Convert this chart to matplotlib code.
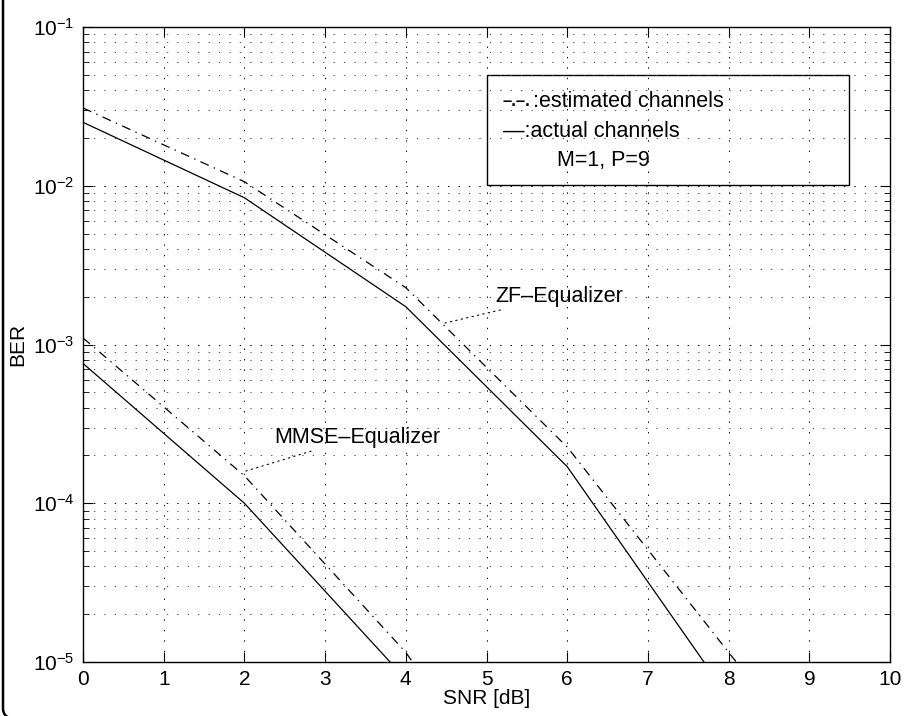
import matplotlib
matplotlib.use('Agg')
import matplotlib.pyplot as plt
from matplotlib.patches import Rectangle, FancyBboxPatch
from matplotlib.ticker import LogLocator, NullFormatter

plt.rcParams['font.family'] = ['Liberation Sans', 'DejaVu Sans']
plt.rcParams['mathtext.fontset'] = 'custom'
plt.rcParams['mathtext.rm'] = 'Liberation Sans'
plt.rcParams['mathtext.it'] = 'Liberation Sans'
plt.rcParams['lines.scale_dashes'] = False

# SNR points [dB]
snr = [0, 2, 4, 6, 8, 10]

# BER curves
zf_actual = [2.51e-2, 8.4e-3, 1.73e-3, 1.70e-4, 6.0e-6, 2e-7]
zf_est = [3.09e-2, 1.06e-2, 2.28e-3, 2.26e-4, 1.15e-5, 6e-7]
mmse_actual = [7.6e-4, 1.0e-4, 7.8e-6, 2e-7, 1e-8, 1e-9]
mmse_est = [1.1e-3, 1.49e-4, 1.15e-5, 4e-7, 2e-8, 1e-9]

fig = plt.figure(figsize=(9.07, 7.16), dpi=100)
ax = fig.add_axes([0.0915, 0.0754, 0.8898, 0.8869])

dd = (6.5, 4.0, 1.0, 4.0)
ax.plot(snr, zf_actual, color='k', lw=0.9)
ax.plot(snr, zf_est, color='k', lw=0.9, dashes=dd)
ax.plot(snr, mmse_actual, color='k', lw=0.9)
ax.plot(snr, mmse_est, color='k', lw=0.9, dashes=dd)

ax.set_yscale('log')
ax.set_xlim(0, 10)
ax.set_ylim(1e-5, 1e-1)
ax.set_xticks(range(11))
ax.yaxis.set_minor_locator(LogLocator(base=10, subs=range(2, 10)))
ax.yaxis.set_minor_formatter(NullFormatter())

grid_ls = (0, (1, 6.5))
ax.grid(True, which='major', axis='both', color='k', linestyle=grid_ls, lw=0.7)
ax.grid(True, which='minor', axis='y', color='0.25', linestyle=grid_ls, lw=0.6)
ax.tick_params(which='major', direction='in', length=7, width=0.8, top=True, right=True,
               labelsize=15, pad=6)
ax.tick_params(which='minor', direction='in', length=4, width=0.6, top=True, right=True)
for s in ax.spines.values():
    s.set_linewidth(1.0)

ax.set_xlabel('SNR [dB]', fontsize=15, labelpad=0)
ax.set_ylabel('BER', fontsize=15, labelpad=4)

# text box in upper right
ax.add_patch(Rectangle((0.5006, 0.751), 0.4484, 0.173, transform=ax.transAxes,
                       fill=False, edgecolor='k', lw=1.0))
ax.text(0.520, 0.882, '\u2013.\u2013.', transform=ax.transAxes,
        fontsize=12, va='center', ha='left', fontweight='bold')
ax.text(0.557, 0.882, ':estimated channels', transform=ax.transAxes,
        fontsize=15.5, va='center', ha='left')
ax.text(0.520, 0.835, '\u2014:actual channels', transform=ax.transAxes,
        fontsize=15.5, va='center', ha='left')
ax.text(0.587, 0.790, 'M=1, P=9', transform=ax.transAxes,
        fontsize=15.5, va='center', ha='left')

# curve labels
ax.annotate('ZF\u2013Equalizer', xy=(4.47, 1.36e-3), xytext=(5.11, 2.02e-3),
            fontsize=15.5, va='center', ha='left',
            arrowprops=dict(arrowstyle='-', linestyle=(0, (1, 3)), color='k', lw=0.8,
                            shrinkA=2, shrinkB=0))
ax.annotate('MMSE\u2013Equalizer', xy=(1.99, 1.58e-4), xytext=(2.37, 2.61e-4),
            fontsize=15.5, va='center', ha='left',
            arrowprops=dict(arrowstyle='-', linestyle=(0, (1, 3)), color='k', lw=0.8,
                            shrinkA=2, shrinkB=0))

# outer frame, mostly cropped off
W, H = 907, 716
fig.patches.append(FancyBboxPatch((3 / W, -3 / H), 1.2, 1.2, transform=fig.transFigure,
                                  boxstyle='round,pad=0,rounding_size=0.015',
                                  fill=False, edgecolor='k', lw=1.8))

fig.savefig('out.png', dpi=100)
